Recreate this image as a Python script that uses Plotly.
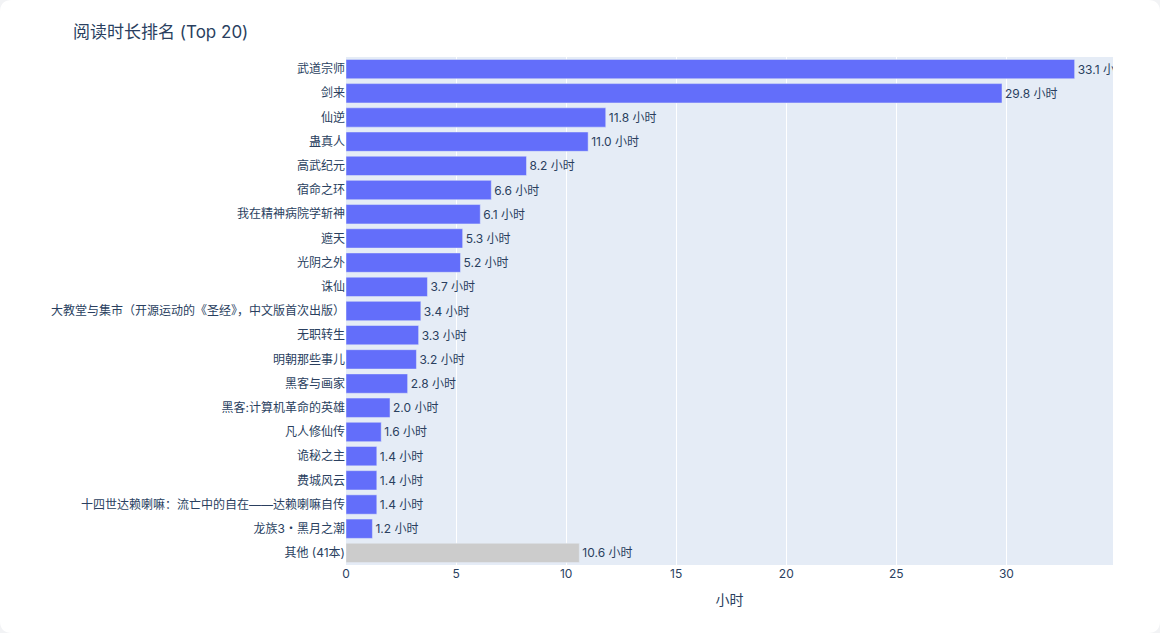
import plotly.graph_objects as go

books = ["武道宗师", "剑来", "仙逆", "蛊真人", "高武纪元", "宿命之环", "我在精神病院学斩神",
         "遮天", "光阴之外", "诛仙", "大教堂与集市（开源运动的《圣经》，中文版首次出版）",
         "无职转生", "明朝那些事儿", "黑客与画家", "黑客:计算机革命的英雄", "凡人修仙传",
         "诡秘之主", "费城风云", "十四世达赖喇嘛：流亡中的自在——达赖喇嘛自传", "龙族3・黑月之潮",
         "其他 (41本)"]
hours = [33.1, 29.8, 11.8, 11.0, 8.2, 6.6, 6.1, 5.3, 5.2, 3.7, 3.4, 3.3, 3.2, 2.8, 2.0,
         1.6, 1.4, 1.4, 1.4, 1.2, 10.6]
colors = ["#636efa"] * 20 + ["#cccccc"]
labels = [f"{h:.1f} 小时" for h in hours]

W, H = 1160, 633
ML, MR, MT, MB = 346, 47, 57, 68
pw, ph = W - ML - MR, H - MT - MB

fig = go.Figure(go.Bar(
    x=hours, y=books, orientation="h",
    marker=dict(color=colors, line=dict(color="#E5ECF6", width=0.5)),
    text=labels, textposition="outside",
    textfont=dict(size=12, color="#2a3f5f"),
    hoverinfo="x+y",
))

# rounded card corners
def px(x):
    return (x - ML) / pw

def py(y):
    return (H - MB - y) / ph

r = 12
bg = "#f2f3f5"
corners = [
    (0, 0, 1, 1),
    (W, 0, -1, 1),
    (0, H, 1, -1),
    (W, H, -1, -1),
]
shapes = []
for cx, cy, sx, sy in corners:
    path = (f"M {px(cx)} {py(cy)} L {px(cx + sx * r)} {py(cy)} "
            f"Q {px(cx)} {py(cy)} {px(cx)} {py(cy + sy * r)} Z")
    shapes.append(dict(type="path", xref="paper", yref="paper", path=path,
                       fillcolor=bg, line=dict(width=0), layer="above"))

fig.update_layout(
    width=W, height=H,
    template="plotly",
    font=dict(family="Inter, 'Noto Sans CJK SC', sans-serif", size=12, color="#2a3f5f"),
    title=dict(text="阅读时长排名 (Top 20)", x=73 / W, xanchor="left",
               y=1 - 32 / H, yanchor="middle", font=dict(size=17)),
    margin=dict(l=ML, r=MR, t=MT, b=MB, autoexpand=False),
    paper_bgcolor="white",
    plot_bgcolor="#E5ECF6",
    xaxis=dict(title=dict(text="小时", font=dict(size=14)), gridcolor="white",
               zeroline=False),
    yaxis=dict(categoryorder="array", categoryarray=books, autorange="reversed",
               automargin=False),
    bargap=0.2,
    showlegend=False,
    shapes=shapes,
)

fig.write_html("out.html")
